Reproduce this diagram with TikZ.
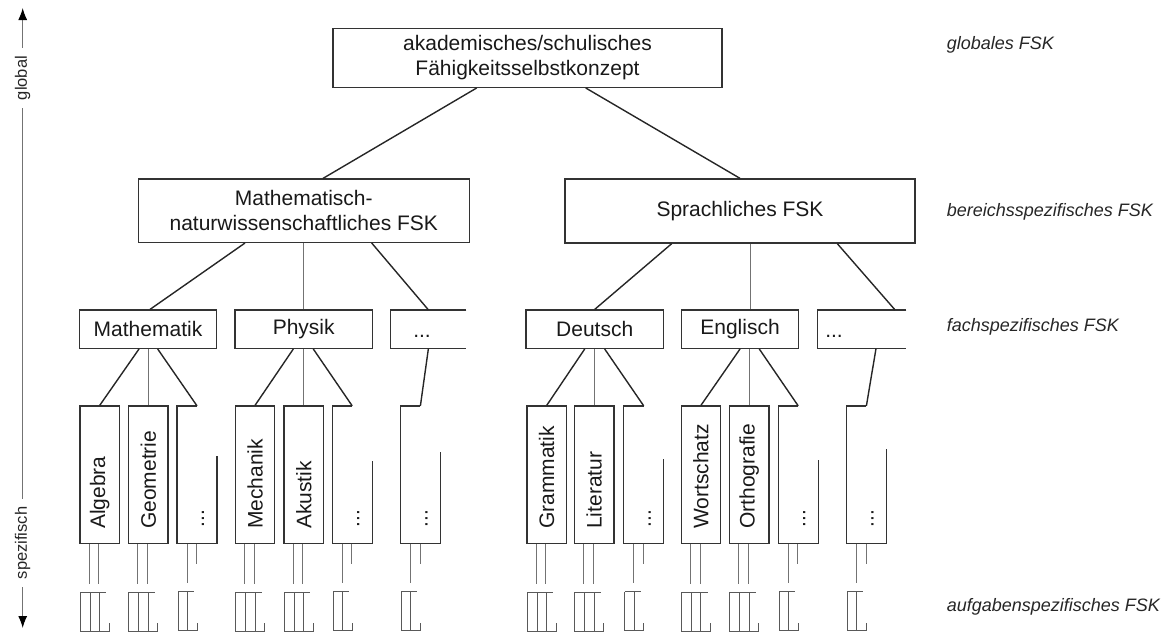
\documentclass[tikz,border=0pt]{standalone}
\usepackage{fontspec}
\setmainfont{Liberation Sans}
\usetikzlibrary{calc,arrows.meta}

\tikzset{
  minitrio/.pic={
    \draw[fine] (0,0) -- (26,0);
    \draw[fine] (0,0) -- (0,39) -- (29,39) -- (29,31);
    \draw[fine] (9.7,0) -- (9.7,39);
    \draw[fine] (19.4,0) -- (19.4,39);
  },
  miniduo/.pic={
    \draw[fine] (0,0) -- (16,0);
    \draw[fine] (0,0) -- (0,39) -- (19,39) -- (19,31);
    \draw[fine] (9.5,0) -- (9.5,39);
  }
}

\begin{document}
\begin{tikzpicture}[x=1pt,y=-1pt,
  boxline/.style={draw=black!80, line width=1.3pt},
  box/.style={boxline, inner sep=0pt, align=center, text=black!90,
    font=\fontsize{21}{25}\selectfont},
  openbox/.style={inner sep=0pt},
  spot/.style={inner sep=0pt, minimum width=39.5pt, minimum height=137.3pt},
  tall/.style={spot, boxline},
  vlabel/.style={rotate=90, anchor=west, inner sep=0pt, text=black!90,
    font=\fontsize{21}{25}\selectfont},
  dotsh/.style={inner sep=0pt, text=black!90, font=\fontsize{21}{25}\selectfont},
  conn/.style={line width=1.4pt, draw=black!85},
  stem/.style={line width=0.9pt, draw=black!55},
  fine/.style={line width=1pt, draw=black!65},
  tier/.style={anchor=west, inner sep=0pt, text=black!85,
    font=\fontsize{18}{22}\selectfont\itshape},
  scaleline/.style={line width=1pt, draw=black!55},
  axislabel/.style={rotate=90, inner xsep=8pt, inner ysep=0pt, text=black!85,
    font=\fontsize{16.5}{20}\selectfont},
  tip/.style={-{Latex[length=12pt,width=9pt,color=black]}}
]
\useasboundingbox (0,0) rectangle (1163,633);

% ---------- global level ----------
\node[box, minimum width=389pt, minimum height=59pt] (fsk) at (527.5,57.8)
  {akademisches/schulisches\\Fähigkeitsselbstkonzept};

% ---------- domain level ----------
\node[box, minimum width=331pt, minimum height=63.3pt] (mnw) at (303.8,210.7)
  {Mathematisch-\\naturwissenschaftliches FSK};
\node[box, minimum width=350pt, minimum height=64pt] (spr) at (740,211)
  {Sprachliches FSK};

\draw[conn] ([xshift=-50.8pt]fsk.south) -- ([xshift=19.2pt]mnw.north);
\draw[conn] ([xshift=58.2pt]fsk.south) -- (spr.north);

% ---------- subject level ----------
\node[box, minimum width=137.4pt, minimum height=38.3pt] (mat) at (148,329.2) {Mathematik};
\node[box, minimum width=137.3pt, minimum height=38.3pt] (phy) at (303.7,329.2) {Physik};
\node[openbox, minimum width=75.3pt, minimum height=38.3pt] (mdd) at (428.4,329.2) {};
\node[dotsh] (mddt) at (422,336.5) {...};
\draw[boxline] (mdd.north east) -- (mdd.north west) -- (mdd.south west) -- (mdd.south east);

\node[box, minimum width=137.3pt, minimum height=38.3pt] (deu) at (594.7,329.2) {Deutsch};
\node[box, minimum width=116.6pt, minimum height=38.3pt] (eng) at (740,329.2) {Englisch};
\node[openbox, minimum width=88.3pt, minimum height=38.3pt] (sdd) at (861.9,329.2) {};
\node[dotsh] (sddt) at (834,336) {...};
\draw[boxline] (sdd.north east) -- (sdd.north west) -- (sdd.south west) -- (sdd.south east);

\draw[conn] ([xshift=-58.8pt]mnw.south) -- ([xshift=2pt]mat.north);
\draw[stem] (phy.north |- mnw.south) -- (phy.north);
\draw[conn] ([xshift=67.9pt]mnw.south) -- (mdd.north);

\draw[conn] ([xshift=-68.3pt]spr.south) -- (deu.north);
\draw[stem] ([xshift=10pt]spr.south) -- ([xshift=10pt]eng.north);
\draw[conn] ([xshift=97.3pt]spr.south) -- ([xshift=33.1pt]sdd.north);

% ---------- area level (closed boxes) ----------
\foreach \n/\x/\t in {alg/99.7/Algebra, geo/148.3/Geometrie,
    mech/255/Mechanik, aku/303.8/Akustik,
    gram/546.7/Grammatik, lit/594.2/Literatur,
    wort/700.9/Wortschatz, orth/749.2/Orthografie} {
  \node[tall] (\n) at (\x,474.7) {};
  \node[vlabel] (\n-t) at ($(\n.south)+(0,-15)$) {\t};
  \draw[stem] ([xshift=10pt]\n.south west) -- ++(0,39.5);
  \draw[stem] ([xshift=19.5pt]\n.south west) -- ++(0,39.5);
  \pic at ($(\n.south west)+(1,48)$) {minitrio};
}

% ---------- area level (open "..." boxes) ----------
\foreach \n/\x/\r in {mx1/197/88, px1/352.2/82.6, mx3/420.4/92,
    dx1/643.7/85, ex1/798.2/84, sx3/866.4/95} {
  \node[spot] (\n) at (\x,474.7) {};
  \node[vlabel] (\n-t) at ($(\n.south)+(6,-16)$) {...};
  \draw[boxline] (\n.north) -- (\n.north west) -- (\n.south west) -- (\n.south east)
    -- ([yshift=\r pt]\n.south east);
  \draw[stem] ([xshift=10pt]\n.south west) -- ++(0,39.5);
  \draw[stem] ([xshift=19.5pt]\n.south west) -- ++(0,20);
  \pic at ($(\n.south west)+(1,48)$) {miniduo};
}

% ---------- subject -> area connectors ----------
\draw[conn] ([xshift=-9pt]mat.south) -- (alg.north);
\draw[stem] (geo.north |- mat.south) -- (geo.north);
\draw[conn] ([xshift=9.7pt]mat.south) -- (mx1.north);

\draw[conn] ([xshift=-10.4pt]phy.south) -- (mech.north);
\draw[stem] (aku.north |- phy.south) -- (aku.north);
\draw[conn] ([xshift=9.6pt]phy.south) -- (px1.north);

\draw[conn] (mdd.south) -- (mx3.north);

\draw[conn] ([xshift=-10pt]deu.south) -- (gram.north);
\draw[stem] (lit.north |- deu.south) -- (lit.north);
\draw[conn] ([xshift=10pt]deu.south) -- (dx1.north);

\draw[conn] (eng.south) -- (wort.north);
\draw[stem] (orth.north |- eng.south) -- (orth.north);
\draw[conn] ([xshift=19.3pt]eng.south) -- (ex1.north);

\draw[conn] ([xshift=14.1pt]sdd.south) -- (sx3.north);

% ---------- global/specific scale ----------
\coordinate (axtop) at (22.7,8);
\coordinate (axbot) at (22.7,628);
\node[axislabel] (glob) at (22.7,78) {global};
\node[axislabel] (spez) at (22.7,543) {spezifisch};
\draw[scaleline, tip] (glob) -- (axtop);
\draw[scaleline] (glob) -- (spez);
\draw[scaleline, tip] (spez) -- (axbot);

% ---------- level names ----------
\node[tier] (lg) at (946.7,45) {globales FSK};
\node[tier] (lb) at (946.7,212) {bereichsspezifisches FSK};
\node[tier] (lf) at (946.7,327) {fachspezifisches FSK};
\node[tier] (la) at (946.7,607) {aufgabenspezifisches FSK};
\end{tikzpicture}
\end{document}
